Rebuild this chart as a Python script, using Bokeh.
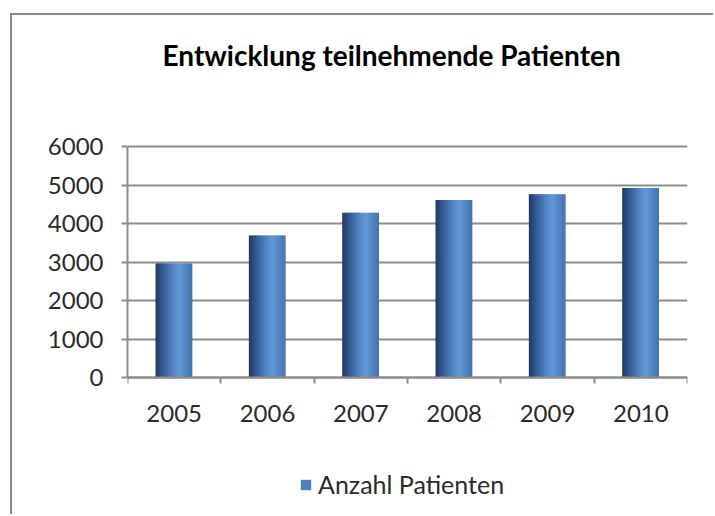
from bokeh.plotting import figure
from bokeh.models import (ColumnDataSource, FixedTicker, Legend, LegendItem, Title, Range1d)
from bokeh.transform import dodge
from bokeh.embed import file_html
from bokeh.resources import INLINE

# ---- data ----
years = ["2005", "2006", "2007", "2008", "2009", "2010"]
patients = [2960, 3690, 4280, 4610, 4760, 4920]
y_ticks = [0, 1000, 2000, 3000, 4000, 5000, 6000]
title_text = "Entwicklung teilnehmende Patienten"
series_name = "Anzahl Patienten"

FONT = "Lato"
GRID = "#8c8c8c"

# ---- layout geometry (pixels) ----
W, H = 703, 501
LEFT, RIGHT, TOP = 115, 28, 80
ZERO_PX = 362          # canvas y of value 0
MAX_PX = 131           # canvas y of the top tick value
per_px = (y_ticks[-1] - y_ticks[0]) / (ZERO_PX - MAX_PX)
y_end = y_ticks[-1] + (MAX_PX - TOP) * per_px
y_start = -(H - ZERO_PX) * per_px

xs = [i + 0.5 for i in range(len(years))]
src = ColumnDataSource(dict(x=xs, top=patients, year=years))

p = figure(width=W, height=H, output_backend="svg", toolbar_location=None,
           x_range=Range1d(0, len(years)), y_range=Range1d(y_start, y_end),
           min_border_left=LEFT, min_border_right=RIGHT, min_border_top=TOP, min_border_bottom=0,
           styles={"margin-left": "10px", "margin-top": "13px",
                   "border-left": "2px solid #8a8a8a", "border-top": "2px solid #8a8a8a"})
p.outline_line_color = None
p.background_fill_color = "white"
p.border_fill_color = "white"

# gradient bar made of strips
def hex2rgb(h):
    h = h.lstrip("#")
    return tuple(int(h[i:i + 2], 16) for i in (0, 2, 4))

stops = [(0.0, "#1f3a60"), (0.2, "#325b92"), (0.5, "#5588c9"), (0.65, "#6398d8"),
         (0.85, "#5384c4"), (1.0, "#4270aa")]

def color_at(t):
    for (t0, c0), (t1, c1) in zip(stops[:-1], stops[1:]):
        if t0 <= t <= t1:
            f = (t - t0) / (t1 - t0) if t1 > t0 else 0
            a, b = hex2rgb(c0), hex2rgb(c1)
            return "#%02x%02x%02x" % tuple(round(a[k] + (b[k] - a[k]) * f) for k in range(3))
    return stops[-1][1]

bar_w = 0.39
n = 24
sw = bar_w / n
strips = []
for i in range(n):
    off = -bar_w / 2 + sw * (i + 0.5)
    c = color_at((i + 0.5) / n)
    r = p.vbar(x=dodge("x", off, range=p.x_range), top="top", bottom=0,
               width=sw * (1.6 if i < n - 1 else 1.0),
               source=src, fill_color=c, line_color=None)
    strips.append(r)

# y axis
p.yaxis.ticker = FixedTicker(ticks=y_ticks)
p.yaxis.bounds = (y_ticks[0], y_ticks[-1])
p.ygrid.ticker = FixedTicker(ticks=y_ticks)
p.ygrid.grid_line_color = GRID
p.ygrid.grid_line_width = 2
p.xgrid.grid_line_color = None
p.yaxis.axis_line_color = GRID
p.yaxis.axis_line_width = 2
p.yaxis.major_tick_line_color = GRID
p.yaxis.major_tick_line_width = 2
p.yaxis.major_tick_out = 6
p.yaxis.major_tick_in = 0
p.yaxis.minor_tick_line_color = None
p.yaxis.major_label_text_font = FONT
p.yaxis.major_label_text_font_size = "24px"
p.yaxis.major_label_text_color = "#2a2a2a"
p.yaxis.major_label_standoff = 18

# x axis, pinned at value 0
p.xaxis.fixed_location = 0
p.xaxis.ticker = FixedTicker(ticks=xs, minor_ticks=list(range(len(years) + 1)))
p.xaxis.major_label_overrides = {x: y for x, y in zip(xs, years)}
p.xaxis.major_tick_line_color = None
p.xaxis.minor_tick_line_color = GRID
p.xaxis.minor_tick_line_width = 2
p.xaxis.minor_tick_out = 6
p.xaxis.minor_tick_in = 0
p.xaxis.axis_line_color = GRID
p.xaxis.axis_line_width = 2
p.xaxis.major_label_text_font = FONT
p.xaxis.major_label_text_font_size = "24px"
p.xaxis.major_label_text_color = "#2a2a2a"
p.xaxis.major_label_standoff = 21

# title
p.title = Title(text=title_text, align="left", vertical_align="top", text_font=FONT,
                text_font_size="28px", text_font_style="bold", text_color="#000000",
                offset=35, standoff=44)

# legend
legend = Legend(items=[LegendItem(label=series_name, renderers=[strips[10]])],
                location=(172, 17), orientation="horizontal",
                label_text_font=FONT, label_text_font_size="25px", label_text_color="#2a2a2a",
                glyph_width=13, glyph_height=13, label_standoff=6,
                border_line_color=None, background_fill_alpha=0, margin=0, padding=0)
p.add_layout(legend)

open("out.html", "w").write(file_html(p, INLINE))
